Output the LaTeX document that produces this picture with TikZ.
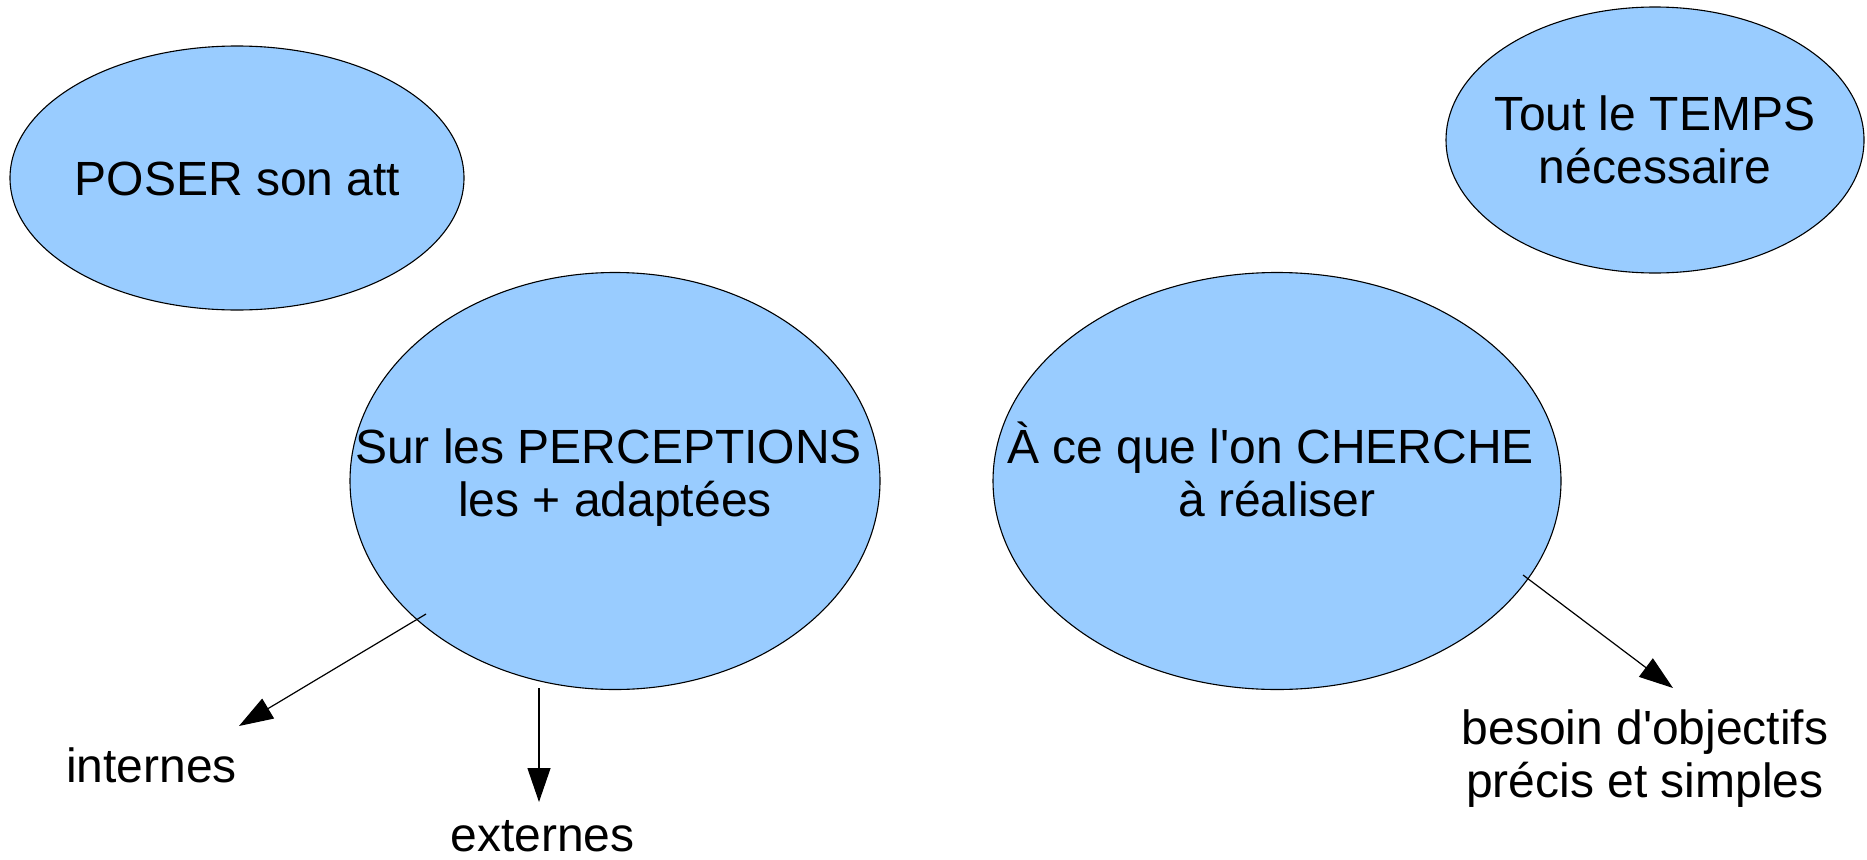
\documentclass[tikz,border=0pt]{standalone}
\usepackage{fontspec}
\setmainfont{Liberation Sans}
\usetikzlibrary{arrows.meta,shapes.geometric}
\definecolor{bubble}{HTML}{99CCFF}
\newcommand{\topstrut}{\rule{0pt}{45pt}}
\begin{document}
\begin{tikzpicture}[x=1pt,y=-1pt,
  bubble/.style={ellipse,draw=black,line width=1.1pt,fill=bubble,inner sep=0pt},
  txt/.style={font=\fontsize{48}{53}\selectfont,align=center,anchor=base,inner sep=0pt},
  mtxt/.style={txt,anchor=north},
  arr/.style={line width=1.2pt,-{Triangle[length=34pt,width=23pt]}}]
\useasboundingbox (0,0) rectangle (1867,859);
% bubbles
\node[bubble,minimum width=454pt,minimum height=264pt] (e1) at (237,178) {};
\node[bubble,minimum width=530pt,minimum height=417pt] (e2) at (615,481) {};
\node[bubble,minimum width=568pt,minimum height=417pt] (e3) at (1277,481) {};
\node[bubble,minimum width=418pt,minimum height=266pt] (e4) at (1655,140) {};
% texts (north anchor = first baseline - 45pt)
\node[txt] (t1) at (237.5,195) {POSER son att};
\node[mtxt] (t2) at (615,418) {\topstrut Sur les PERCEPTIONS\kern13pt\\les + adaptées};
\node[mtxt] (t3) at (1277,418) {\topstrut À ce que l\textquotesingle on CHERCHE\kern13pt\\à réaliser};
\node[mtxt] (t4) at (1655,85) {\topstrut Tout le TEMPS\\nécessaire};
\node[txt] (internes) at (151.5,782) {internes};
\node[txt] (externes) at (542.5,851) {externes};
\node[mtxt] (besoin) at (1645,699) {\topstrut besoin d\textquotesingle objectifs\\précis et simples};
% connector ends
\coordinate (s1) at (426,614);
\coordinate (f1) at (239,726);
\coordinate (s2) at (539,688);
\coordinate (f2) at (539,802);
\coordinate (s3) at (1523,575);
\coordinate (f3) at (1673,688);
\draw[arr] (s1) -- (f1);
\draw[arr] (s2) -- (f2);
\draw[arr] (s3) -- (f3);
\end{tikzpicture}
\end{document}
